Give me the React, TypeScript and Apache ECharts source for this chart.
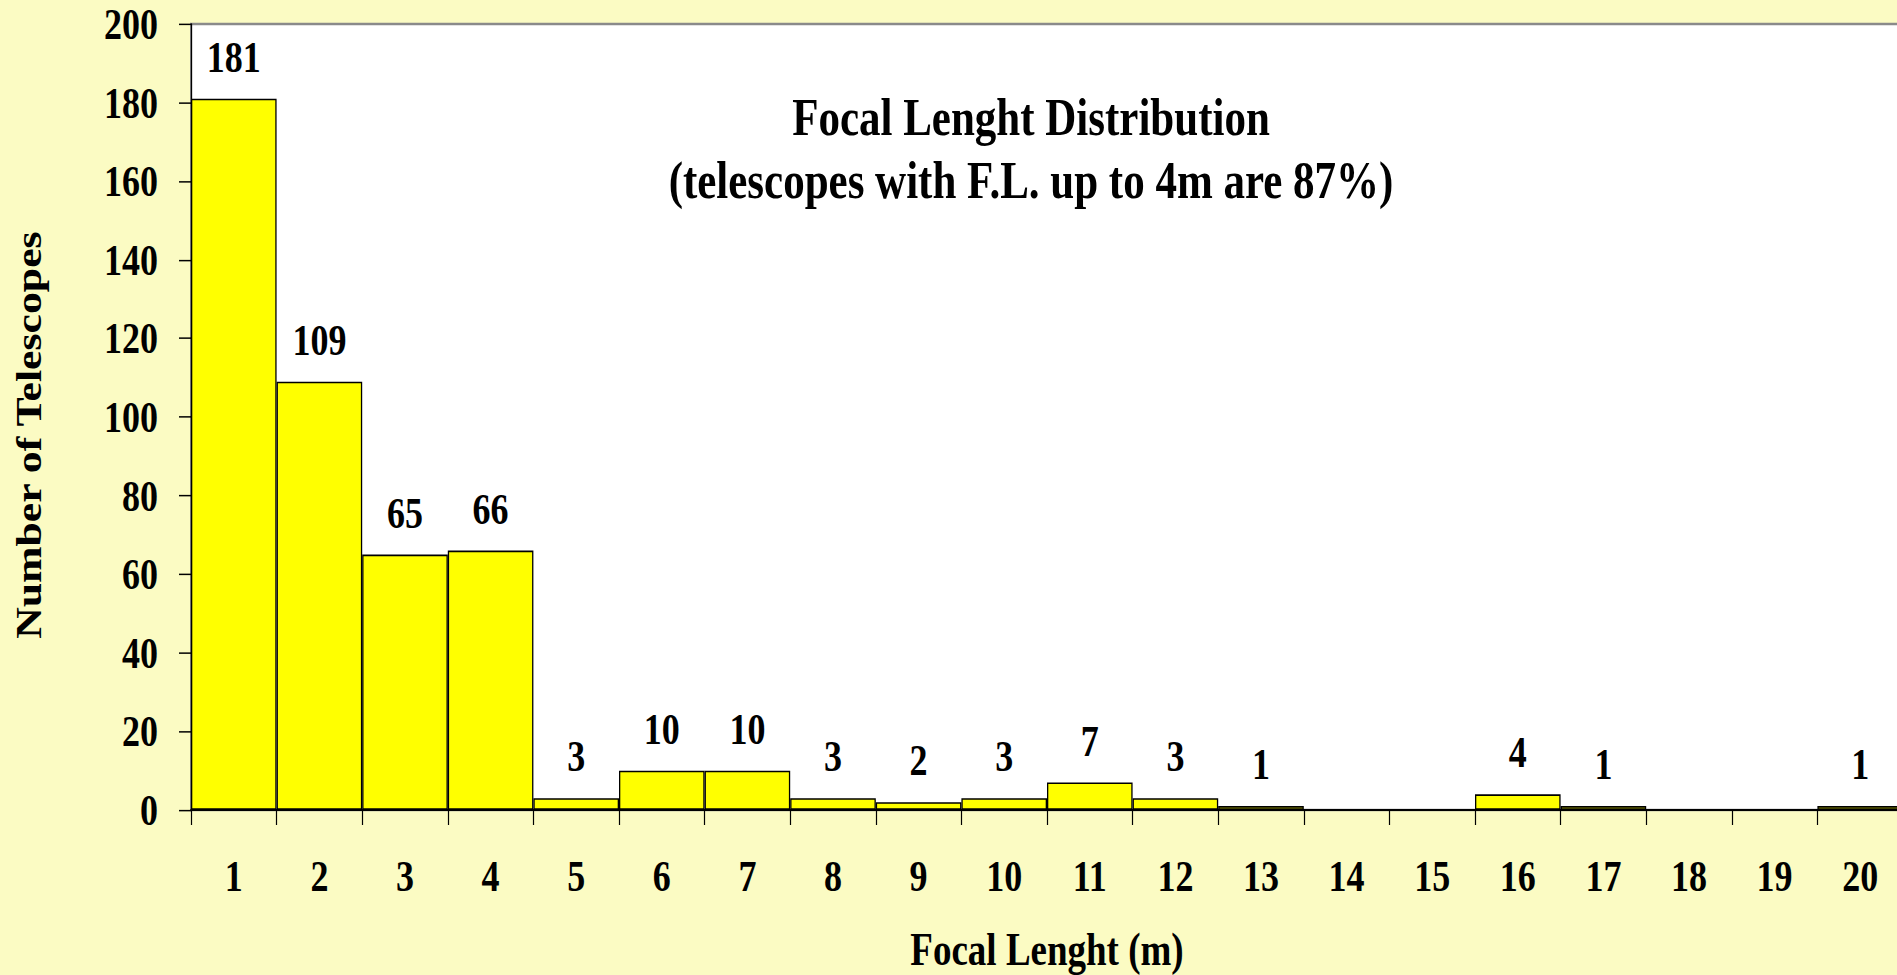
import React, { useEffect, useRef } from "react";
import * as echarts from "echarts";

const categories = ["1","2","3","4","5","6","7","8","9","10","11","12","13","14","15","16","17","18","19","20"];
const counts = [181, 109, 65, 66, 3, 10, 10, 3, 2, 3, 7, 3, 1, 0, 0, 4, 1, 0, 0, 1];
const titleLines = ["Focal Lenght Distribution", "(telescopes with F.L. up to 4m are 87%)"];
const xName = "Focal Lenght (m)";
const yName = "Number of Telescopes";

const FONT = "Liberation Serif";
const STRETCH = 1.25;
const W = 1897;
const H = 975 / STRETCH;

export default function App() {
  const ref = useRef<HTMLDivElement>(null);
  useEffect(() => {
    if (!ref.current) return;
    const chart = echarts.init(ref.current, null, { renderer: "svg" });
    chart.setOption({
      animation: false,
      backgroundColor: "#FBFBC3",
      textStyle: { fontFamily: FONT },
      title: {
        text: titleLines.join("\n"),
        left: 1031,
        top: 68,
        padding: 0,
        textAlign: "center",
        textVerticalAlign: "top",
        textStyle: {
          fontFamily: FONT,
          fontWeight: "bold",
          fontSize: 43,
          lineHeight: 51,
          color: "#000",
        },
      },
      grid: {
        left: 191,
        top: 19.2,
        width: 1712,
        height: 628.8,
        outerBoundsMode: "none",
        containLabel: false,
        show: true,
        backgroundColor: "#ffffff",
        borderColor: "#8a8a8a",
        borderWidth: 2,
      },
      xAxis: {
        type: "category",
        data: categories,
        boundaryGap: true,
        name: xName,
        nameLocation: "middle",
        nameGap: 93,
        nameTextStyle: { fontFamily: FONT, fontWeight: "bold", fontSize: 37, color: "#000" },
        axisLine: { show: true, lineStyle: { color: "#000", width: 1.6 } },
        axisTick: { show: true, alignWithLabel: false, length: 12, lineStyle: { color: "#000", width: 1.2 } },
        axisLabel: { fontFamily: FONT, fontWeight: "bold", fontSize: 36, color: "#000", margin: 35, interval: 0 },
        splitLine: { show: false },
      },
      yAxis: {
        type: "value",
        min: 0,
        max: 200,
        interval: 20,
        name: yName,
        nameLocation: "middle",
        nameGap: 144,
        nameTextStyle: { fontFamily: FONT, fontWeight: "bold", fontSize: 35, color: "#000", padding: [0, 29, 0, 0] },
        axisLine: { show: true, lineStyle: { color: "#000", width: 1.3 } },
        axisTick: { show: true, inside: false, length: 12, lineStyle: { color: "#000", width: 1.2 } },
        axisLabel: { fontFamily: FONT, fontWeight: "bold", fontSize: 36, color: "#000", margin: 33 },
        splitLine: { show: false },
      },
      series: [
        {
          type: "bar",
          data: counts,
          barCategoryGap: "0%",
          itemStyle: { color: "#FFFF00", borderColor: "#000", borderWidth: 1.3 },
          label: {
            show: true,
            position: "top",
            distance: 15.5,
            fontFamily: FONT,
            fontWeight: "bold",
            fontSize: 36,
            color: "#000",
            formatter: (p: any) => (p.value === 0 ? "" : String(p.value)),
          },
        },
      ],
    });
    return () => chart.dispose();
  }, []);
  return (
    <div style={{ position: "fixed", left: 0, top: 0, width: W, height: 975, overflow: "hidden", background: "#FBFBC3" }}>
      <div style={{ width: W, height: H, transform: `scaleY(${STRETCH})`, transformOrigin: "0 0" }}>
        <div ref={ref} style={{ width: W, height: H }} />
      </div>
    </div>
  );
}
